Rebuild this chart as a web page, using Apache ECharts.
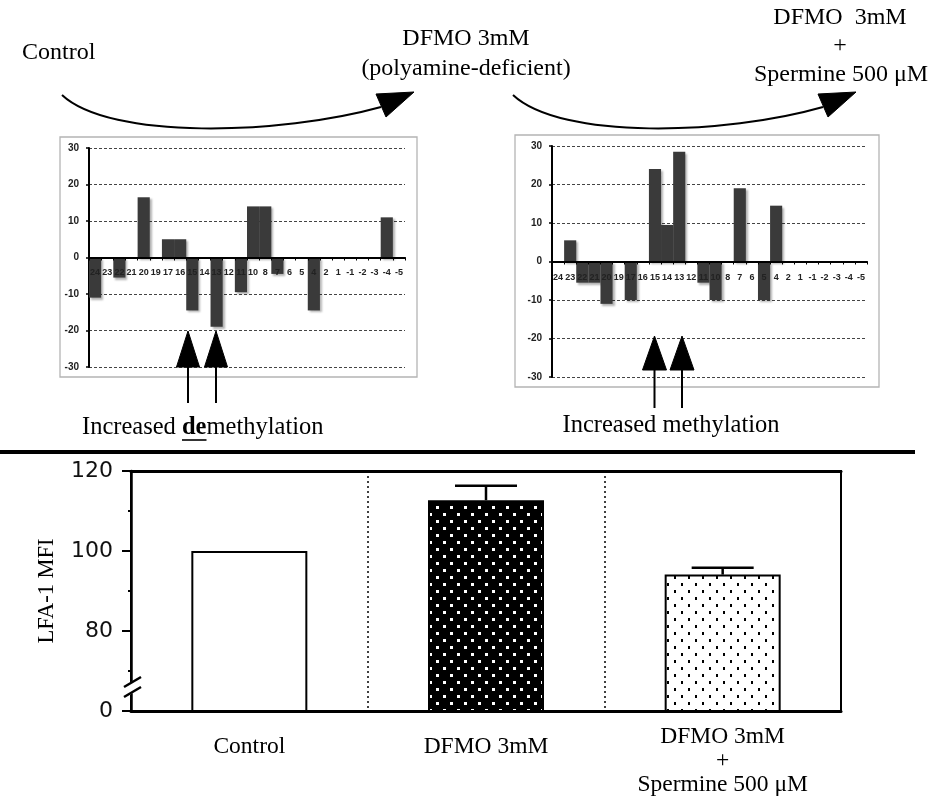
<!DOCTYPE html>
<html>
<head>
<meta charset="utf-8">
<script src="https://cdn.jsdelivr.net/npm/echarts@6/dist/echarts.min.js"></script>
<style>
html,body{margin:0;padding:0;background:#fff;}
#chart{width:935px;height:797px;}
</style>
</head>
<body>
<div id="chart"></div>
<script>
// ---- data ----
const cpgPositions = ['24','23','22','21','20','19','17','16','15','14','13','12','11','10','8','7','6','5','4','2','1','-1','-2','-3','-4','-5'];
const controlToDfmo = [-11,0,-5.5,0,16.5,0,5,5,-14.5,0,-19,0,-9.5,14,14,-4.5,0,0,-14.5,0,0,0,0,0,11,0];
const dfmoToSpermine = [0,5.5,-5.5,-5.5,-11,0,-10,0,24,9.5,28.5,0,-5.5,-10,0,19,0,-10,14.5,0,0,0,0,0,0,0];
const smallTicks = {min:-30, max:30, interval:10};

const groups = ['Control', 'DFMO 3mM', 'DFMO 3mM\n+\nSpermine 500 μM'];
const lfaMean = [100, 112.7, 94.1];
const lfaErr = [0, 3.6, 1.7];
const lfaTicks = {min:60, max:120, interval:20};
const brokenTickLabel = {60: '0'};

// ---- fills ----
function dotPattern(bg, fg, w, h){
  const c = document.createElement('canvas');
  c.width = 14; c.height = 14;
  const g = c.getContext('2d');
  g.fillStyle = bg; g.fillRect(0,0,14,14);
  g.fillStyle = fg; g.fillRect(2,2,w,h); g.fillRect(9,9,w,h);
  return {image:c, repeat:'repeat'};
}
const fills = ['#ffffff', dotPattern('#000','#fff',3,3), dotPattern('#fff','#000',2,3)];

const SERIF = '"Liberation Serif","Times New Roman",serif';
const SANS = '"Liberation Sans",Arial,sans-serif';

const smallGrids = [
  {left:89, top:148, width:316, height:219},
  {left:552, top:146, width:315, height:231}
];

function smallX(i){
  return {gridIndex:i, type:'category', data:cpgPositions, z:5,
    offset:-smallGrids[i].height/2,
    axisLine:{onZero:false, lineStyle:{color:'#000', width:2}},
    axisTick:{show:true, length:3, lineStyle:{color:'#000', width:1}},
    axisLabel:{interval:0, margin:i===0?11:12, fontSize:9, fontWeight:'bold', color:'#222', fontFamily:SANS},
    splitLine:{show:false}};
}
function smallY(i){
  return {gridIndex:i, type:'value', min:smallTicks.min, max:smallTicks.max, interval:smallTicks.interval,
    axisLine:{show:true, lineStyle:{color:'#000', width:2}},
    axisTick:{show:true, length:3, lineStyle:{color:'#000', width:1.5}},
    axisLabel:{fontSize:10, fontWeight:'bold', color:'#222', margin:10, fontFamily:SANS},
    splitLine:{show:true, lineStyle:{color:'#444', type:[3,2], width:1}}};
}
const smallBarStyle = {color:'#3a3a3a', shadowColor:'rgba(0,0,0,0.3)', shadowOffsetX:2, shadowOffsetY:2, shadowBlur:2};

function txt(text, x, y, size, align, extra){
  return Object.assign({type:'text', x:x, y:y, z:10,
    style:{text:text, font:size+'px '+SERIF, fill:'#000', align:align||'center', verticalAlign:'middle'}}, extra||{});
}
function line(x1,y1,x2,y2,w){
  return {type:'line', z:10, shape:{x1:x1,y1:y1,x2:x2,y2:y2}, style:{stroke:'#000', lineWidth:w||2}};
}
function poly(pts, fill){
  return {type:'polygon', z:10, shape:{points:pts}, style:{fill:fill||'#000', stroke:fill||'#000', lineWidth:1}};
}

const chart = echarts.init(document.getElementById('chart'), null, {renderer:'canvas'});
chart.setOption({
  animation:false,
  backgroundColor:'#fff',
  grid:[
    smallGrids[0], smallGrids[1],
    {left:131, top:471, width:710, height:242, show:true, borderColor:'#000', borderWidth:2, backgroundColor:'transparent'}
  ],
  xAxis:[
    smallX(0), smallX(1),
    {gridIndex:2, type:'category', data:groups,
      axisLine:{lineStyle:{color:'#000', width:3}},
      axisTick:{show:false},
      splitLine:{show:true, interval:0, lineStyle:{color:'#000', type:[2,3], width:1.5}},
      axisLabel:{interval:0, margin:14,
        formatter:function(v){
          return v.indexOf('\n')>=0 ? v.split('\n').map(function(s){return '{s|'+s+'}';}).join('\n') : '{t|'+v+'}';
        },
        rich:{
          s:{fontFamily:SERIF, fontSize:23.5, lineHeight:24, color:'#000'},
          t:{fontFamily:SERIF, fontSize:23.5, lineHeight:44, color:'#000'}
        }}},
    {gridIndex:2, type:'category', position:'top', data:groups,
      axisLine:{lineStyle:{color:'#000', width:3}}, axisTick:{show:false}, axisLabel:{show:false}}
  ],
  yAxis:[
    smallY(0), smallY(1),
    {gridIndex:2, type:'value', min:lfaTicks.min, max:lfaTicks.max, interval:lfaTicks.interval,
      name:'LFA-1 MFI', nameLocation:'middle', nameRotate:90, nameGap:72,
      nameTextStyle:{fontFamily:SERIF, fontSize:22.5, color:'#000'},
      axisLine:{show:true, lineStyle:{color:'#000', width:2.5}},
      axisTick:{show:true, length:9, lineStyle:{color:'#000', width:2}},
      minorTick:{show:true, splitNumber:2, length:3, lineStyle:{color:'#000', width:2}},
      axisLabel:{margin:18, fontFamily:'"DejaVu Sans",Verdana,sans-serif', fontSize:22, color:'#111',
        formatter:function(v){ return brokenTickLabel[v]!==undefined ? brokenTickLabel[v] : String(v); }},
      splitLine:{show:false}}
  ],
  series:[
    {type:'bar', xAxisIndex:0, yAxisIndex:0, data:controlToDfmo, barCategoryGap:'0%', itemStyle:smallBarStyle},
    {type:'bar', xAxisIndex:1, yAxisIndex:1, data:dfmoToSpermine, barCategoryGap:'0%', itemStyle:smallBarStyle},
    {type:'bar', xAxisIndex:2, yAxisIndex:2, barWidth:116, z:3,
      data:lfaMean.map(function(v,i){return {value:v, itemStyle:{color:fills[i]}};}),
      itemStyle:{borderColor:'#000', borderWidth:2}},
    {type:'custom', xAxisIndex:2, yAxisIndex:2, z:4,
      data:lfaMean.map(function(m,i){return [i, m, lfaErr[i]];}),
      renderItem:function(params, api){
        const i = api.value(0), m = api.value(1), e = api.value(2);
        if(!e) return null;
        const p0 = api.coord([i, m]), p1 = api.coord([i, m+e]);
        const hw = 31;
        return {type:'group', children:[
          {type:'line', shape:{x1:p0[0], y1:p0[1], x2:p1[0], y2:p1[1]}, style:{stroke:'#000', lineWidth:2.5}},
          {type:'line', shape:{x1:p1[0]-hw, y1:p1[1], x2:p1[0]+hw, y2:p1[1]}, style:{stroke:'#000', lineWidth:2.5}}
        ]};
      }}
  ],
  graphic:{elements:[
    // panel frames
    {type:'rect', z:-1, shape:{x:60, y:137, width:357, height:240}, style:{fill:null, stroke:'#b4b4b4', lineWidth:1.3}},
    {type:'rect', z:-1, shape:{x:515, y:135, width:364, height:252}, style:{fill:null, stroke:'#b4b4b4', lineWidth:1.3}},
    // headings
    txt('Control', 22, 53, 24, 'left'),
    txt('DFMO 3mM', 466, 39, 24),
    txt('(polyamine-deficient)', 466, 69, 24),
    txt('DFMO  3mM', 840, 18, 24),
    txt('+', 840, 46, 24),
    txt('Spermine 500 μM', 841, 75, 24),
    // curved arrows
    {type:'bezierCurve', z:10, shape:{x1:62, y1:95, x2:381, y2:107, cpx1:110, cpy1:140, cpx2:280, cpy2:135}, style:{stroke:'#000', lineWidth:2, fill:null}},
    poly([[376,94],[414,92],[386,117]]),
    {type:'bezierCurve', z:10, shape:{x1:513, y1:95, x2:823, y2:107, cpx1:561, cpy1:140, cpx2:725, cpy2:135}, style:{stroke:'#000', lineWidth:2, fill:null}},
    poly([[818,94],[856,92],[828,117]]),
    // up arrows under panels
    poly([[188,331],[176.5,367],[199.5,367]]), line(188,366,188,403,2),
    poly([[216,331],[204.5,367],[227.5,367]]), line(216,366,216,403,2),
    poly([[654.5,336],[642.5,370],[666.5,370]]), line(654.5,369,654.5,408,2),
    poly([[682,336],[670,370],[694,370]]), line(682,369,682,408,2),
    // captions
    {type:'text', x:82, y:428, z:10, style:{text:'{n|Increased }{b|de}{n|methylation}', align:'left', verticalAlign:'middle',
      rich:{n:{font:'24.5px '+SERIF, fill:'#000'}, b:{font:'bold 24.5px '+SERIF, fill:'#000'}}}},
    line(182,440,206.5,440,1.6),
    txt('Increased methylation', 671, 426, 24.5),
    // separator
    line(0,452,915,452,4),
    // axis break marks
    poly([[125,686],[141,677],[141,688],[125,697]], '#fff'),
    line(124,687,141,677,2.5),
    line(124,697,141,687,2.5)
  ]}
});
</script>
</body>
</html>
